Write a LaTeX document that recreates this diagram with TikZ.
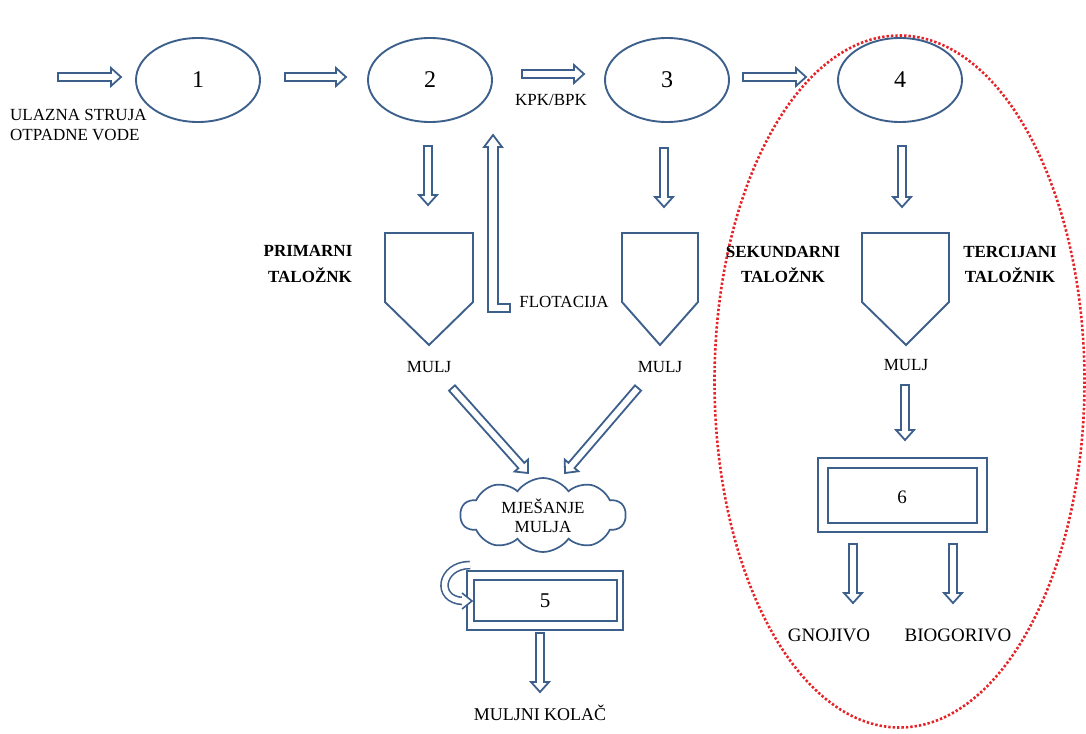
\documentclass[tikz,border=0pt]{standalone}
\usepackage{fontspec}
\setmainfont{Liberation Serif}
\usetikzlibrary{calc,shapes.geometric,shapes.symbols}
\definecolor{dblue}{RGB}{60,95,140}
\definecolor{dred}{RGB}{230,35,40}
\newcommand{\blockarr}[2]{%
  \coordinate (bh) at ($(#2)!10pt!(#1)$);
  \draw[barr] ($(#1)!4pt!90:(#2)$) -- ($(bh)!4pt!90:(#2)$) -- ($(bh)!9pt!90:(#2)$) -- (#2)
    -- ($(bh)!9pt!-90:(#2)$) -- ($(bh)!4pt!-90:(#2)$) -- ($(#1)!4pt!-90:(#2)$) -- cycle;}
\tikzset{
  barr/.style={draw=dblue, line width=1.8pt, fill=white, line join=miter},
  proc/.style={ellipse, draw=dblue, line width=1.9pt, minimum width=124pt, minimum height=84pt, inner sep=0,
     font=\fontsize{24}{24}\selectfont},
  tank/.style={draw=dblue, line width=1.9pt, line join=miter},
  lbl/.style={inner sep=0, font=\fontsize{17}{18}\selectfont},
  blbl/.style={inner sep=0, font=\fontsize{17}{18}\selectfont\bfseries},
  boxo/.style={draw=dblue, line width=1.9pt, fill=white, inner sep=0},
}
\begin{document}
\begin{tikzpicture}[x=1pt,y=-1pt]
\useasboundingbox (0,0) rectangle (1086,733);
% red dotted ellipse
\draw[dred, line width=2.6pt, dash pattern=on 2.4pt off 2pt] (899.5,381.5) ellipse (185 and 346);
% process ellipses
\node[proc] (e1) at (198,80) {1};
\node[proc] (e2) at (430,80) {2};
\node[proc] (e3) at (667,80) {3};
\node[proc] (e4) at (900,80) {4};
% horizontal arrows
\coordinate (a0s) at (58,77);  \coordinate (a0e) at (121,77);
\coordinate (a1s) at (285,77); \coordinate (a1e) at (346,77);
\coordinate (a2s) at (522,74); \coordinate (a2e) at (584,74);
\coordinate (a3s) at (743,77); \coordinate (a3e) at (806,77);
\blockarr{a0s}{a0e}
\blockarr{a1s}{a1e}
\blockarr{a2s}{a2e}
\blockarr{a3s}{a3e}
% down arrows to tanks
\coordinate (d2s) at (428,146); \coordinate (d2e) at (428,205);
\coordinate (d3s) at (664,148); \coordinate (d3e) at (664,207);
\coordinate (d4s) at (902,146); \coordinate (d4e) at (902,207);
\blockarr{d2s}{d2e}
\blockarr{d3s}{d3e}
\blockarr{d4s}{d4e}
% flotacija L-arrow
\draw[barr] (488,147) -- (488,312) -- (510,312) -- (510,304) -- (498,304) -- (498,147)
  -- (502,147) -- (493,135) -- (484,147) -- cycle;
% tanks
\draw[tank] (385,233) -- (473,233) -- (473,302) -- (429,345) -- (385,302) -- cycle;
\draw[tank] (622,233) -- (698,233) -- (698,302) -- (660,345) -- (622,302) -- cycle;
\draw[tank] (862,233) -- (949,233) -- (949,302) -- (906,345) -- (862,302) -- cycle;
% labels
\node[lbl, anchor=west] (in1) at (10,115) {ULAZNA STRUJA};
\node[lbl, anchor=west] (in2) at (10,135) {OTPADNE VODE};
\node[lbl] (kpk) at (551,100) {KPK/BPK};
\node[lbl] (flot) at (564,302) {FLOTACIJA};
\node[blbl] (pt1) at (308,251) {PRIMARNI};
\node[blbl] (pt2) at (310,275) {TALOŽNK};
\node[blbl] (st1) at (783,252) {SEKUNDARNI};
\node[blbl] (st2) at (783,275) {TALOŽNK};
\node[blbl] (tt1) at (1010,252) {TERCIJANI};
\node[blbl] (tt2) at (1010,275) {TALOŽNIK};
\node[lbl] (m1) at (429,367) {MULJ};
\node[lbl] (m2) at (660,367) {MULJ};
\node[lbl] (m3) at (906,365) {MULJ};
% diagonal arrows to mixing
\coordinate (dls) at (452,388); \coordinate (dle) at (528,473);
\coordinate (drs) at (638,388); \coordinate (dre) at (565,473);
\blockarr{dls}{dle}
\blockarr{drs}{dre}
% cloud
\node[cloud, cloud puffs=10, cloud puff arc=110, aspect=2.4, draw=dblue, line width=1.7pt, minimum width=165pt, minimum height=74pt, inner sep=0] (mix) at (543,515) {};
\node[lbl] (mx1) at (543,506) {MJEŠANJE};
\node[lbl] (mx2) at (543,527) {MULJA};
% box 5
\draw[boxo] (467,571) rectangle (623,630);
\draw[boxo] (474,580) rectangle (617,621);
\node[inner sep=0, font=\fontsize{21}{21}\selectfont] (b5) at (545,601) {5};
% curved arrow at box 5
\draw[dblue, line width=1.6pt, double=white, double distance=5.5pt] (470,565) .. controls (440,565) and (435,600) .. (463,601);
\filldraw[draw=dblue, fill=white, line width=1.6pt, line join=miter] (462,593) -- (472,601) -- (462,609);
% arrow to cake
\coordinate (ks) at (540,633); \coordinate (ke) at (540,692);
\blockarr{ks}{ke}
\node[inner sep=0, font=\fontsize{18}{18}\selectfont] (cake) at (540,713) {MULJNI KOLAČ};
% box 6
\coordinate (m6s) at (905,385); \coordinate (m6e) at (905,440);
\blockarr{m6s}{m6e}
\draw[boxo] (818,458) rectangle (987,532);
\draw[boxo] (828,468) rectangle (977,523);
\node[inner sep=0, font=\fontsize{19}{19}\selectfont] (b6) at (902,497) {6};
\coordinate (gs) at (853,544); \coordinate (ge) at (853,603);
\coordinate (bs) at (953,544); \coordinate (be) at (953,603);
\blockarr{gs}{ge}
\blockarr{bs}{be}
\node[inner sep=0, font=\fontsize{19}{19}\selectfont] (gno) at (829,635) {GNOJIVO};
\node[inner sep=0, font=\fontsize{19}{19}\selectfont] (bio) at (958,635) {BIOGORIVO};
\end{tikzpicture}
\end{document}
